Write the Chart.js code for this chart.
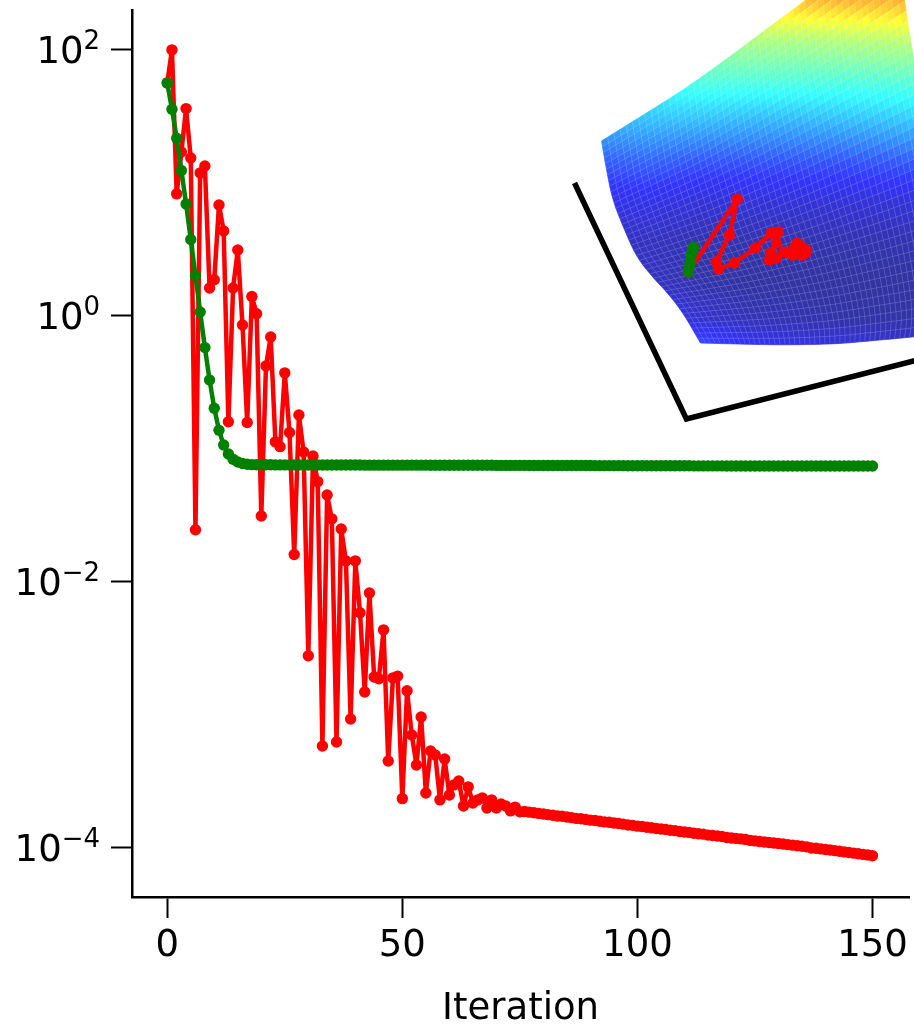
<!DOCTYPE html>
<html>
<head>
<meta charset="utf-8">
<title>Iteration</title>
<script src="https://cdn.jsdelivr.net/npm/chart.js@4/dist/chart.umd.min.js"></script>
<style>
  html, body { margin: 0; padding: 0; background: #fff; }
  canvas { display: block; }
</style>
</head>
<body>
<canvas id="chart" width="914" height="1024"></canvas>
<script>
const xTicks = [0, 50, 100, 150];
const yTicks = [100, 1, 0.01, 0.0001];
const yTickExponents = ['2', '0', '−2', '−4'];

// value per iteration, index = iteration
const redLoss = [
  56.5, 100, 8.27, 17.1, 36.2, 15.4, 0.0247, 11.9, 13.4, 1.62,
  1.87, 6.83, 4.35, 0.16, 1.62, 3.13, 0.855, 0.158, 1.40, 1.04,
  0.0313, 0.421, 0.695, 0.113, 0.104, 0.373, 0.133, 0.0161, 0.180, 0.0949,
  0.00279, 0.0886, 0.0568, 0.000585, 0.0451, 0.0298, 0.000627, 0.0250, 0.0144, 0.000933,
  0.0144, 0.00587, 0.00149, 0.00827, 0.00193, 0.00187, 0.00436, 0.000451, 0.0019, 0.00196,
  0.000235, 0.00152, 0.000708, 0.000421, 0.000966, 0.000259, 0.000536, 0.0005, 0.00023, 0.000467,
  0.00025, 0.000298, 0.000319, 0.000207, 0.000288, 0.000218, 0.00023, 0.000238, 0.0002, 0.00023,
  0.0002, 0.000214, 0.000207, 0.00019, 0.000203, 0.000187,
  1.88e-4, 1.86e-4, 1.84e-4, 1.82e-4, 1.80e-4, 1.78e-4, 1.76e-4, 1.74e-4, 1.73e-4, 1.71e-4,
  1.69e-4, 1.67e-4, 1.66e-4, 1.64e-4, 1.62e-4, 1.61e-4, 1.59e-4, 1.57e-4, 1.56e-4, 1.54e-4,
  1.53e-4, 1.51e-4, 1.49e-4, 1.48e-4, 1.46e-4, 1.45e-4, 1.43e-4, 1.42e-4, 1.40e-4, 1.39e-4,
  1.38e-4, 1.36e-4, 1.35e-4, 1.33e-4, 1.32e-4, 1.31e-4, 1.29e-4, 1.28e-4, 1.27e-4, 1.25e-4,
  1.24e-4, 1.23e-4, 1.22e-4, 1.20e-4, 1.19e-4, 1.18e-4, 1.17e-4, 1.16e-4, 1.14e-4, 1.13e-4,
  1.12e-4, 1.11e-4, 1.10e-4, 1.09e-4, 1.08e-4, 1.07e-4, 1.06e-4, 1.05e-4, 1.04e-4, 1.03e-4,
  1.02e-4, 1.00e-4, 9.95e-5, 9.85e-5, 9.75e-5, 9.65e-5, 9.55e-5, 9.45e-5, 9.35e-5, 9.25e-5,
  9.15e-5, 9.05e-5, 8.95e-5, 8.85e-5, 8.75e-5
];
const greenLoss = [
  56.5, 35.8, 21.7, 12.4, 6.95, 3.75, 2.01, 1.07, 0.578, 0.330,
  0.202, 0.138, 0.107, 0.0917, 0.0837, 0.0798, 0.0778, 0.0767, 0.0762, 0.0760,
  0.0760, 0.0760, 0.0760, 0.0759, 0.0759, 0.0759, 0.0759, 0.0759, 0.0758, 0.0758,
  0.0758, 0.0758, 0.0758, 0.0758, 0.0758, 0.0757, 0.0757, 0.0757, 0.0757, 0.0757,
  0.0757, 0.0757, 0.0756, 0.0756, 0.0756, 0.0756, 0.0756, 0.0756, 0.0756, 0.0755,
  0.0755, 0.0755, 0.0755, 0.0755, 0.0755, 0.0755, 0.0754, 0.0754, 0.0754, 0.0754,
  0.0754, 0.0754, 0.0754, 0.0753, 0.0753, 0.0753, 0.0753, 0.0753, 0.0753, 0.0753,
  0.0752, 0.0752, 0.0752, 0.0752, 0.0752, 0.0752, 0.0752, 0.0751, 0.0751, 0.0751,
  0.0751, 0.0751, 0.0751, 0.0751, 0.0750, 0.0750, 0.0750, 0.0750, 0.0750, 0.0750,
  0.0750, 0.0749, 0.0749, 0.0749, 0.0749, 0.0749, 0.0749, 0.0749, 0.0748, 0.0748,
  0.0748, 0.0748, 0.0748, 0.0748, 0.0748, 0.0747, 0.0747, 0.0747, 0.0747, 0.0747,
  0.0747, 0.0747, 0.0746, 0.0746, 0.0746, 0.0746, 0.0746, 0.0746, 0.0746, 0.0745,
  0.0745, 0.0745, 0.0745, 0.0745, 0.0745, 0.0745, 0.0745, 0.0745, 0.0745, 0.0745,
  0.0745, 0.0745, 0.0745, 0.0745, 0.0745, 0.0745, 0.0745, 0.0745, 0.0745, 0.0745,
  0.0745, 0.0745, 0.0745, 0.0745, 0.0745, 0.0745, 0.0745, 0.0745, 0.0745, 0.0745,
  0.0745
];

// inset: the projected 3d view, in its own x/y units with the frame corner at 0,0
const frameX = [-112, 0, 235];
const frameY = [236, 0, 60];
const redPathX = [2, 51, 43, 30, 32, 48, 69, 85, 92, 90, 84, 83, 90, 98, 106, 111, 120, 116, 108, 114, 119, 110, 113, 116];
const redPathY = [147, 220, 184, 157, 150, 156, 171, 186, 187, 176, 166, 159, 161, 167, 164, 176, 169, 164, 171, 173, 166, 165, 169, 170];
const greenPathX = [2, 3, 4, 5, 6.5, 7];
const greenPathY = [147, 153, 159, 165, 170, 172];

// outline of the surface
const surfLeft = smooth([[-85, 278], [-80, 249], [-74, 219], [-62, 189], [-50, 162], [-34, 142], [-17, 124], [-2, 104], [14, 76]]);
const surfTop = smooth([[-85, 278], [-40, 306], [0, 331], [43, 362], [83, 392], [120, 419], [211, 489]]);
const surfBottom = smooth([[14, 76], [50, 75], [96, 74], [150, 75], [183, 78], [227, 82], [263, 86]]);
const surfRight = smooth([[211, 489], [218, 419], [227, 362], [238, 309], [248, 254], [258, 199], [265, 149], [268, 109], [263, 86]]);

// colour level (0..1 of jet) seen on the surface, by inset x and y
const levelX = [-87, -37, 13, 63, 113, 163, 227];
const levelY = [419, 379, 339, 299, 259, 219, 179, 139, 99, 74];
const levels = [
  [0.66, 0.66, 0.66, 0.68, 0.71, 0.72, 0.72],
  [0.50, 0.50, 0.52, 0.53, 0.53, 0.54, 0.55],
  [0.40, 0.40, 0.42, 0.42, 0.42, 0.42, 0.43],
  [0.30, 0.30, 0.30, 0.29, 0.29, 0.30, 0.31],
  [0.18, 0.19, 0.17, 0.17, 0.17, 0.17, 0.18],
  [0.10, 0.10, 0.08, 0.08, 0.08, 0.08, 0.08],
  [0.05, 0.05, 0.03, 0.03, 0.03, 0.03, 0.03],
  [0.08, 0.05, 0.02, 0.01, 0.01, 0.01, 0.01],
  [0.15, 0.12, 0.07, 0.04, 0.03, 0.02, 0.02],
  [0.22, 0.20, 0.17, 0.11, 0.09, 0.08, 0.07]
];

const FONT = '"DejaVu Sans"';

// rounds off the corners of an outline
function smooth(pts) {
  let out = pts;
  for (let n = 0; n < 3; n++) {
    const next = [out[0]];
    for (let i = 0; i < out.length - 1; i++) {
      const a = out[i], b = out[i+1];
      next.push([a[0]*0.75 + b[0]*0.25, a[1]*0.75 + b[1]*0.25]);
      next.push([a[0]*0.25 + b[0]*0.75, a[1]*0.25 + b[1]*0.75]);
    }
    next.push(out[out.length-1]);
    out = next;
  }
  return out;
}

function alongLine(pts, f) {
  let total = 0;
  for (let i = 1; i < pts.length; i++) total += Math.hypot(pts[i][0] - pts[i-1][0], pts[i][1] - pts[i-1][1]);
  let d = f * total;
  for (let i = 1; i < pts.length; i++) {
    const len = Math.hypot(pts[i][0] - pts[i-1][0], pts[i][1] - pts[i-1][1]);
    if (d <= len || i == pts.length - 1) {
      const t = len ? d / len : 0;
      return [pts[i-1][0] + (pts[i][0] - pts[i-1][0]) * t, pts[i-1][1] + (pts[i][1] - pts[i-1][1]) * t];
    }
    d -= len;
  }
}

function surfPoint(u, v) {
  const t = alongLine(surfTop, u), b = alongLine(surfBottom, u);
  const l = alongLine(surfLeft, v), r = alongLine(surfRight, v);
  const c00 = surfTop[0], c10 = surfTop[surfTop.length-1], c01 = surfBottom[0], c11 = surfBottom[surfBottom.length-1];
  return [0, 1].map(k => (1-v)*t[k] + v*b[k] + (1-u)*l[k] + u*r[k]
    - ((1-u)*(1-v)*c00[k] + u*(1-v)*c10[k] + (1-u)*v*c01[k] + u*v*c11[k]));
}

function levelAt(x, y) {
  let i = 0, j = 0;
  while (i < levelX.length - 2 && x > levelX[i+1]) i++;
  while (j < levelY.length - 2 && y < levelY[j+1]) j++;
  const a = Math.min(1, Math.max(0, (x - levelX[i]) / (levelX[i+1] - levelX[i])));
  const b = Math.min(1, Math.max(0, (levelY[j] - y) / (levelY[j] - levelY[j+1])));
  return (1-a)*(1-b)*levels[j][i] + a*(1-b)*levels[j][i+1] + (1-a)*b*levels[j+1][i] + a*b*levels[j+1][i+1];
}

function jet(t) {
  const ramp = (p) => Math.max(0, Math.min(1, 1.5 - Math.abs(4 * t - p)));
  const mix = (c) => Math.round(c * 255 * 0.8 + 51);
  return `rgb(${mix(ramp(3))},${mix(ramp(2))},${mix(ramp(1))})`;
}

const surfacePlugin = {
  id: 'surface',
  beforeDatasetsDraw(chart) {
    const ctx = chart.ctx, sx = chart.scales.insetX, sy = chart.scales.insetY;
    const cols = 50, rows = 40;
    const mesh = [];
    for (let r = 0; r <= rows; r++) {
      mesh.push([]);
      for (let c = 0; c <= cols; c++) mesh[r].push(surfPoint(c / cols, r / rows));
    }
    ctx.save();
    ctx.lineWidth = 0.7;
    ctx.lineJoin = 'round';
    for (let r = 0; r < rows; r++) {
      for (let c = 0; c < cols; c++) {
        const p = [mesh[r][c], mesh[r][c+1], mesh[r+1][c+1], mesh[r+1][c]];
        const mx = (p[0][0] + p[2][0]) / 2, my = (p[0][1] + p[2][1]) / 2;
        const col = jet(levelAt(mx, my));
        ctx.beginPath();
        p.forEach((q, i) => {
          const X = sx.getPixelForValue(q[0]), Y = sy.getPixelForValue(q[1]);
          if (i == 0) ctx.moveTo(X, Y); else ctx.lineTo(X, Y);
        });
        ctx.closePath();
        ctx.fillStyle = col;
        ctx.strokeStyle = col;
        ctx.fill();
        ctx.stroke();
      }
    }
    // mesh lines
    ctx.strokeStyle = 'rgba(255,255,255,0.18)';
    ctx.lineWidth = 0.8;
    for (let r = 1; r < rows; r++) {
      ctx.beginPath();
      for (let c = 0; c <= cols; c++) {
        const X = sx.getPixelForValue(mesh[r][c][0]), Y = sy.getPixelForValue(mesh[r][c][1]);
        if (c == 0) ctx.moveTo(X, Y); else ctx.lineTo(X, Y);
      }
      ctx.stroke();
    }
    for (let c = 1; c < cols; c++) {
      ctx.beginPath();
      for (let r = 0; r <= rows; r++) {
        const X = sx.getPixelForValue(mesh[r][c][0]), Y = sy.getPixelForValue(mesh[r][c][1]);
        if (r == 0) ctx.moveTo(X, Y); else ctx.lineTo(X, Y);
      }
      ctx.stroke();
    }
    ctx.restore();
  }
};

// log tick labels with a real raised exponent, canvas ticks can't do that
const powerLabels = {
  id: 'powerLabels',
  afterDraw(chart) {
    const ctx = chart.ctx, sy = chart.scales.y;
    ctx.save();
    ctx.fillStyle = '#000';
    ctx.textBaseline = 'alphabetic';
    ctx.textAlign = 'left';
    yTicks.forEach((v, i) => {
      const py = sy.getPixelForValue(v);
      ctx.font = '26px ' + FONT;
      const expWidth = ctx.measureText(yTickExponents[i]).width;
      ctx.font = '37px ' + FONT;
      const baseWidth = ctx.measureText('10').width;
      const x0 = 100 - expWidth - baseWidth;
      ctx.fillText('10', x0, py + 13.5);
      ctx.font = '26px ' + FONT;
      ctx.fillText(yTickExponents[i], x0 + baseWidth, py - 1);
    });
    ctx.restore();
  }
};

function toPoints(xs, ys) {
  return xs.map((x, i) => ({ x: x, y: ys[i] }));
}
function lossPoints(values) {
  return values.map((v, i) => ({ x: i, y: v }));
}

function lineSet(label, color, points, order, extra) {
  return Object.assign({
    label: label,
    data: points,
    showLine: true,
    borderColor: color,
    backgroundColor: color,
    borderWidth: 4.5,
    borderJoinStyle: 'round',
    borderCapStyle: 'round',
    pointRadius: 5.7,
    pointBorderWidth: 0,
    pointHoverRadius: 5.7,
    order: order
  }, extra);
}

new Chart(document.getElementById('chart'), {
  type: 'scatter',
  plugins: [surfacePlugin, powerLabels],
  data: {
    datasets: [
      lineSet('red', '#ff0000', lossPoints(redLoss), 4),
      lineSet('green', '#008000', lossPoints(greenLoss), 3),
      lineSet('frame', '#000000', toPoints(frameX, frameY), 5, {
        xAxisID: 'insetX', yAxisID: 'insetY', pointRadius: 0, borderWidth: 5.5,
        borderJoinStyle: 'miter', borderCapStyle: 'butt', clip: false
      }),
      lineSet('red path', '#ff0000', toPoints(redPathX, redPathY), 2, {
        xAxisID: 'insetX', yAxisID: 'insetY', clip: false
      }),
      lineSet('green path', '#008000', toPoints(greenPathX, greenPathY), 1, {
        xAxisID: 'insetX', yAxisID: 'insetY', clip: false
      })
    ]
  },
  options: {
    responsive: false,
    devicePixelRatio: 1,
    animation: false,
    layout: { autoPadding: false, padding: { top: 10, right: 4, left: 0, bottom: 0 } },
    plugins: { legend: { display: false }, tooltip: { enabled: false } },
    scales: {
      x: {
        type: 'linear',
        min: -7.5,
        max: 157.8,
        afterBuildTicks: (scale) => { scale.ticks = xTicks.map(v => ({ value: v })); },
        afterFit: (scale) => { scale.height = 127; },
        border: { color: '#000', width: 2.5 },
        grid: { drawOnChartArea: false, tickLength: 21, tickColor: '#000', tickWidth: 2 },
        ticks: { color: '#000', font: { family: FONT, size: 37 }, padding: 6, maxRotation: 0, autoSkip: false },
        title: { display: true, text: 'Iteration', color: '#000', font: { family: FONT, size: 37 }, padding: { top: 0, bottom: -8 } }
      },
      y: {
        type: 'logarithmic',
        min: 4.28e-5,
        max: 199.5,
        afterBuildTicks: (scale) => { scale.ticks = yTicks.map(v => ({ value: v, major: true })); },
        afterFit: (scale) => { scale.width = 132; },
        border: { color: '#000', width: 2.5 },
        grid: { drawOnChartArea: false, tickLength: 21, tickColor: '#000', tickWidth: 2 },
        ticks: { display: false, autoSkip: false }
      },
      insetX: { type: 'linear', display: false, min: -555, max: 223 },
      insetY: { type: 'linear', display: false, min: -478, max: 409 }
    }
  }
});
</script>
</body>
</html>
